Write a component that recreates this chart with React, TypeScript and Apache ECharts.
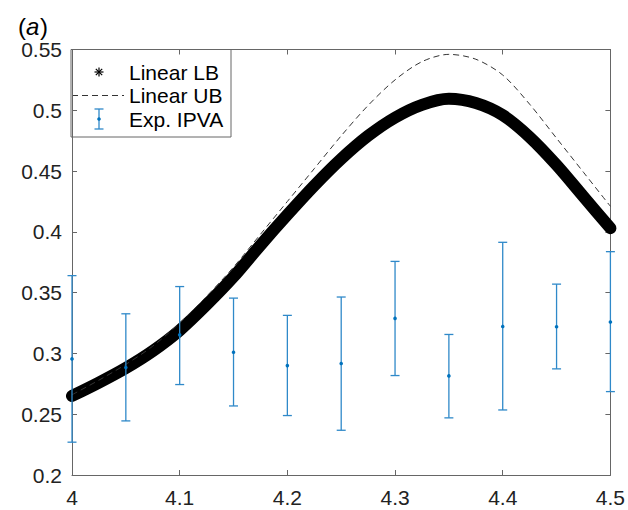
import React, { useEffect, useRef } from "react";
import * as echarts from "echarts";

// Linear bound curves (sampled every 0.025)
const curveX = [4.0, 4.025, 4.05, 4.075, 4.1, 4.125, 4.15, 4.175, 4.2, 4.225, 4.25, 4.275, 4.3, 4.325, 4.35, 4.375, 4.4, 4.425, 4.45, 4.475, 4.5];
const linearLB = [0.265, 0.276, 0.288, 0.302, 0.319, 0.340, 0.363, 0.389, 0.414, 0.438, 0.460, 0.479, 0.494, 0.5045, 0.5095, 0.506, 0.496, 0.478, 0.455, 0.429, 0.403];
const linearUB = [0.266, 0.278, 0.291, 0.306, 0.325, 0.347, 0.371, 0.398, 0.425, 0.452, 0.479, 0.504, 0.525, 0.540, 0.546, 0.542, 0.529, 0.505, 0.477, 0.449, 0.421];

// Experimental IPVA with error bars
const ipvaX = [4.0, 4.05, 4.1, 4.15, 4.2, 4.25, 4.3, 4.35, 4.4, 4.45, 4.5];
const ipvaMean = [0.2955, 0.2884, 0.3153, 0.301, 0.290, 0.2917, 0.3288, 0.2815, 0.3222, 0.3219, 0.3258];
const ipvaLow = [0.227, 0.2445, 0.2744, 0.2568, 0.2489, 0.2368, 0.2818, 0.247, 0.2535, 0.2873, 0.2686];
const ipvaHigh = [0.364, 0.3326, 0.355, 0.3455, 0.3313, 0.3464, 0.3757, 0.3156, 0.3914, 0.357, 0.3837];

const legendNames = ["Linear LB", "Linear UB", "Exp. IPVA"];

const FONT = "'Liberation Sans', Arial, Helvetica, sans-serif";
const AXIS_COLOR = "#666";
const BAR_COLOR = "#2f89c9";
const DOT_COLOR = "#0072BD";

export default function App() {
  const ref = useRef<HTMLDivElement>(null);

  useEffect(() => {
    if (!ref.current) return;
    const chart = echarts.init(ref.current, null, { renderer: "svg" });

    const lbData = curveX.map((x, i) => [x, linearLB[i]]);
    const ubData = curveX.map((x, i) => [x, linearUB[i]]);
    const ipvaData = ipvaX.map((x, i) => [x, ipvaMean[i], ipvaLow[i], ipvaHigh[i]]);

    const axisCommon = {
      type: "value" as const,
      splitLine: { show: false },
      axisLine: { show: true, lineStyle: { color: AXIS_COLOR, width: 1 } },
      axisTick: { show: true, inside: true, length: 5, lineStyle: { color: AXIS_COLOR } },
    };

    const lx = 71;
    const ly = 49.5;
    const iconCx = 99;
    const rowY = [72, 95.5, 119];
    const textX = 129;
    const ar = 4.5;
    const ad = ar * 0.7071;

    const titleSize = 24;
    const titleY = 26;

    const option = {
      animation: false,
      grid: { left: 72, right: 17, top: 49.5, bottom: 35, containLabel: false },
      xAxis: [
        {
          ...axisCommon,
          min: 4,
          max: 4.5,
          interval: 0.1,
          position: "bottom",
          axisLabel: {
            show: true,
            margin: 12,
            fontSize: 21,
            fontFamily: FONT,
            color: "#222",
            formatter: (v: number) => String(Number(v.toFixed(1))),
          },
        },
        {
          ...axisCommon,
          min: 4,
          max: 4.5,
          interval: 0.1,
          position: "top",
          axisLabel: { show: false },
        },
      ],
      yAxis: [
        {
          ...axisCommon,
          min: 0.2,
          max: 0.55,
          interval: 0.05,
          position: "left",
          axisLabel: {
            show: true,
            margin: 10,
            fontSize: 21,
            fontFamily: FONT,
            color: "#222",
            formatter: (v: number) => String(Number(v.toFixed(2))),
          },
        },
        {
          ...axisCommon,
          min: 0.2,
          max: 0.55,
          interval: 0.05,
          position: "right",
          axisLabel: { show: false },
        },
      ],
      series: [
        {
          name: legendNames[0],
          type: "line",
          xAxisIndex: 0,
          yAxisIndex: 0,
          data: lbData,
          smooth: 0.3,
          showSymbol: false,
          symbol: "none",
          lineStyle: { color: "#000", width: 12, cap: "round", join: "round" },
          z: 2,
        },
        {
          name: legendNames[1],
          type: "line",
          xAxisIndex: 0,
          yAxisIndex: 0,
          data: ubData,
          smooth: 0.3,
          showSymbol: false,
          symbol: "none",
          lineStyle: { color: "#333", width: 1, type: [6, 4] },
          z: 3,
        },
        {
          name: legendNames[2],
          type: "custom",
          xAxisIndex: 0,
          yAxisIndex: 0,
          data: ipvaData,
          dimensions: ["x", "mean", "low", "high"],
          encode: { x: 0, y: [1, 2, 3] },
          clip: false,
          z: 4,
          renderItem: (params: any, api: any) => {
            const x = api.value(0);
            const pm = api.coord([x, api.value(1)]);
            const plo = api.coord([x, api.value(2)]);
            const phi = api.coord([x, api.value(3)]);
            const c = 4.5;
            const st = { stroke: BAR_COLOR, lineWidth: 1.3 };
            return {
              type: "group",
              children: [
                { type: "line", shape: { x1: pm[0], y1: plo[1], x2: pm[0], y2: phi[1] }, style: st },
                { type: "line", shape: { x1: pm[0] - c, y1: plo[1], x2: pm[0] + c, y2: plo[1] }, style: st },
                { type: "line", shape: { x1: pm[0] - c, y1: phi[1], x2: pm[0] + c, y2: phi[1] }, style: st },
                { type: "circle", shape: { cx: pm[0], cy: pm[1], r: 1.8 }, style: { fill: DOT_COLOR } },
              ],
            };
          },
        },
      ],
      graphic: [
        {
          type: "group",
          children: [
            {
              type: "text",
              x: 18,
              y: titleY,
              style: { text: "(", fontSize: titleSize, fontFamily: FONT, fill: "#000", verticalAlign: "middle" },
            },
            {
              type: "text",
              x: 26,
              y: titleY,
              style: { text: "a", fontSize: titleSize, fontStyle: "italic", fontFamily: FONT, fill: "#000", verticalAlign: "middle" },
            },
            {
              type: "text",
              x: 40,
              y: titleY,
              style: { text: ")", fontSize: titleSize, fontFamily: FONT, fill: "#000", verticalAlign: "middle" },
            },
          ],
        },
        {
          type: "group",
          z: 100,
          children: [
            {
              type: "rect",
              shape: { x: lx, y: ly, width: 160, height: 87.5 },
              style: { fill: "#fff", stroke: AXIS_COLOR, lineWidth: 1 },
            },
            // asterisk icon
            { type: "line", shape: { x1: iconCx - ar, y1: rowY[0], x2: iconCx + ar, y2: rowY[0] }, style: { stroke: "#000", lineWidth: 1.2 } },
            { type: "line", shape: { x1: iconCx, y1: rowY[0] - ar, x2: iconCx, y2: rowY[0] + ar }, style: { stroke: "#000", lineWidth: 1.2 } },
            { type: "line", shape: { x1: iconCx - ad, y1: rowY[0] - ad, x2: iconCx + ad, y2: rowY[0] + ad }, style: { stroke: "#000", lineWidth: 1.2 } },
            { type: "line", shape: { x1: iconCx - ad, y1: rowY[0] + ad, x2: iconCx + ad, y2: rowY[0] - ad }, style: { stroke: "#000", lineWidth: 1.2 } },
            // dashed line icon
            { type: "line", shape: { x1: 72, y1: rowY[1], x2: 124, y2: rowY[1] }, style: { stroke: "#333", lineWidth: 1, lineDash: [6, 4] } },
            // error bar icon
            { type: "line", shape: { x1: iconCx, y1: rowY[2] - 10, x2: iconCx, y2: rowY[2] + 10 }, style: { stroke: BAR_COLOR, lineWidth: 1.3 } },
            { type: "line", shape: { x1: iconCx - 4.5, y1: rowY[2] - 10, x2: iconCx + 4.5, y2: rowY[2] - 10 }, style: { stroke: BAR_COLOR, lineWidth: 1.3 } },
            { type: "line", shape: { x1: iconCx - 4.5, y1: rowY[2] + 10, x2: iconCx + 4.5, y2: rowY[2] + 10 }, style: { stroke: BAR_COLOR, lineWidth: 1.3 } },
            { type: "circle", shape: { cx: iconCx, cy: rowY[2], r: 1.8 }, style: { fill: DOT_COLOR } },
            ...legendNames.map((name, i) => ({
              type: "text",
              x: textX,
              y: rowY[i],
              style: {
                text: name,
                fontSize: 21,
                fontFamily: FONT,
                fill: "#000",
                verticalAlign: "middle",
                align: "left",
              },
            })),
          ],
        },
      ],
    };

    chart.setOption(option as any);
    return () => {
      chart.dispose();
    };
  }, []);

  return (
    <div
      ref={ref}
      style={{ position: "fixed", left: 0, top: 0, width: 628, height: 510, background: "#fff" }}
    />
  );
}
